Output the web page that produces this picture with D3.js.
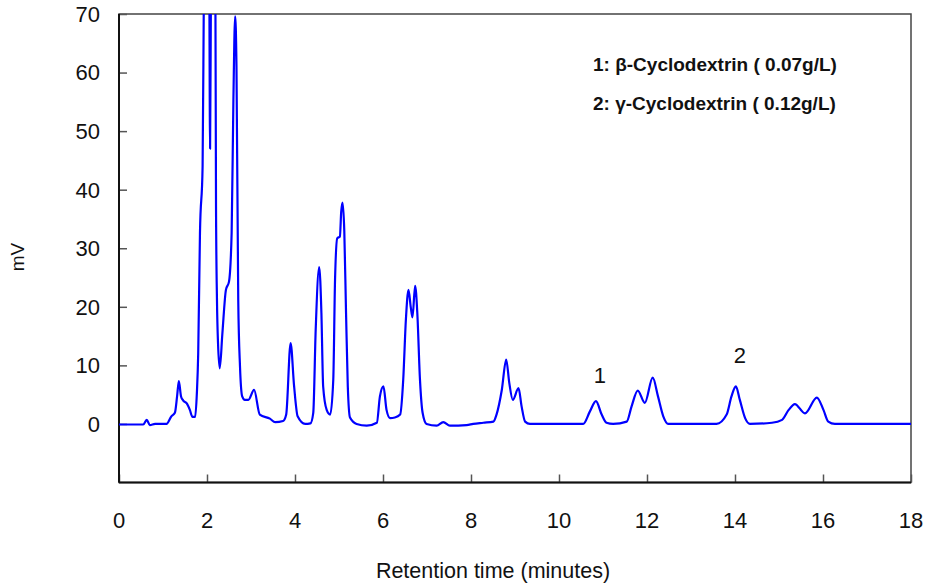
<!DOCTYPE html>
<html><head><meta charset="utf-8">
<script src="https://cdn.jsdelivr.net/npm/d3@7"></script>
<style>body{margin:0;background:#fff}svg{display:block}text{font-family:"Liberation Sans",Arial,sans-serif}</style>
</head><body><svg id="c" width="926" height="585"></svg>
<script>
// Retention time (minutes) and detector signal (mV)
const times = [0,0.55,0.63,0.70,0.82,1.08,1.19,1.27,1.32,1.36,1.41,1.46,1.54,1.61,1.67,1.73,1.77,1.80,1.84,1.90,1.93,2.00,2.05,2.07,2.09,2.12,2.19,2.205,2.227,2.25,2.29,2.35,2.43,2.50,2.56,2.60,2.64,2.67,2.71,2.75,2.80,2.86,2.94,3.07,3.20,3.43,3.55,3.73,3.80,3.90,3.98,4.06,4.23,4.35,4.415,4.47,4.55,4.60,4.64,4.72,4.80,4.87,4.91,4.96,5.02,5.05,5.08,5.12,5.16,5.20,5.25,5.40,5.63,5.86,5.93,6.01,6.08,6.16,6.27,6.39,6.46,6.52,6.58,6.63,6.67,6.73,6.78,6.84,6.90,6.99,7.22,7.37,7.52,7.90,8.05,8.28,8.51,8.58,8.70,8.80,8.87,8.95,9.08,9.15,9.23,9.34,10.55,10.70,10.84,10.97,11.08,11.23,11.54,11.65,11.79,11.95,12.13,12.25,12.37,12.48,13.58,13.81,13.92,14.02,14.11,14.23,14.34,14.84,15.07,15.22,15.36,15.59,15.86,16.01,16.12,16.27,18];
const signal = [-0.1,-0.1,0.7,-0.2,0,0,1.3,1.9,4.7,7.3,4.7,4.0,3.5,2.4,1.2,1.2,5.3,12,32.5,44,75,110,80,47,75,100,75,37,21,13.9,9.5,15.5,22.9,24.3,32.6,55.3,69.6,61,21.2,9.8,4.7,4.1,4.1,5.8,1.6,0.9,0.3,0.5,1.6,13.8,6.4,1.3,0,0.1,1.9,16,26.8,19,6.4,2.4,1.6,7.6,24.6,31.7,32,36.2,37.8,33,19,6.4,1.1,0,-0.3,0.2,4.7,6.4,2.4,1.0,1.1,1.6,7.6,17.8,22.9,20,18.2,23.6,18.9,7.6,1.9,0,-0.3,0.3,-0.3,-0.2,0,0.2,0.4,1.6,5.8,11,7,4.1,6.1,3,0.4,0,0,2.1,3.9,1.6,0.2,0,0.4,3,5.7,3.6,7.9,4.7,1.3,0,0,1.6,4.7,6.4,4.1,1.0,0,0.2,0.7,2.4,3.4,1.8,4.5,2.4,0.4,0,0];
const xTicks = [0,2,4,6,8,10,12,14,16,18];
const yTicks = [0,10,20,30,40,50,60,70];
const legendLines = ["1: β-Cyclodextrin ( 0.07g/L)","2: γ-Cyclodextrin ( 0.12g/L)"];
const peakLabels = [{t:10.84,v:3.9,label:"1"},{t:14.02,v:6.4,label:"2"}];

const svg = d3.select("#c");
const L=119, R=911, T=14, B=482.5;
const x = d3.scaleLinear().domain([0,18]).range([L,R]);
const y = d3.scaleLinear().domain([-10,70]).range([B,T]);

svg.append("defs").append("clipPath").attr("id","clip")
  .append("rect").attr("x",L).attr("y",T).attr("width",R-L).attr("height",B-T);

// frame
svg.append("rect").attr("x",L).attr("y",T).attr("width",R-L).attr("height",B-T)
  .attr("fill","none").attr("stroke","#444").attr("stroke-width",1.5);

// y axis
const yAxis = d3.axisRight(y).tickValues(yTicks).tickSize(8).tickFormat("");
const gy = svg.append("g").attr("transform",`translate(${L},0)`).call(yAxis);
gy.select(".domain").remove();
gy.selectAll(".tick line").attr("stroke","#555").attr("stroke-width",1.5);
svg.append("g").selectAll("text").data(yTicks).join("text")
  .attr("x",100).attr("y",d=>y(d)).attr("dy","0.36em").attr("text-anchor","end")
  .attr("font-size",22).attr("fill","#111").text(d=>d);

// x axis
const xAxis = d3.axisTop(x).tickValues(xTicks).tickSize(8).tickFormat("");
const gx = svg.append("g").attr("transform",`translate(0,${B})`).call(xAxis);
gx.select(".domain").remove();
gx.selectAll(".tick line").attr("stroke","#555").attr("stroke-width",1.5);
svg.append("g").selectAll("text").data(xTicks).join("text")
  .attr("x",d=>x(d)).attr("y",528).attr("text-anchor","middle")
  .attr("font-size",22).attr("fill","#111").text(d=>d);

// left & bottom axis lines darker
svg.append("line").attr("x1",L).attr("x2",L).attr("y1",T).attr("y2",B).attr("stroke","#111").attr("stroke-width",2);
svg.append("line").attr("x1",L).attr("x2",R).attr("y1",B).attr("y2",B).attr("stroke","#111").attr("stroke-width",2);

// titles
svg.append("text").attr("transform","translate(24,257) rotate(-90)").attr("text-anchor","middle")
  .attr("font-size",19).attr("fill","#111").text("mV");
svg.append("text").attr("x",493).attr("y",578).attr("text-anchor","middle")
  .attr("font-size",21.5).attr("fill","#111").text("Retention time (minutes)");

// chromatogram
const data = times.map((t,i)=>({t, v:signal[i]}));
const line = d3.line().x(d=>x(d.t)).y(d=>y(d.v)).curve(d3.curveMonotoneX);
svg.append("path").datum(data).attr("clip-path","url(#clip)")
  .attr("fill","none").attr("stroke","#0000ff").attr("stroke-width",2.2)
  .attr("stroke-linejoin","round").attr("d",line);

// legend
svg.append("g").selectAll("text").data(legendLines).join("text")
  .attr("x",593).attr("y",(d,i)=>71+i*39).attr("font-size",19).attr("font-weight","bold")
  .attr("fill","#111").text(d=>d);

// peak labels
svg.append("g").selectAll("text").data(peakLabels).join("text")
  .attr("x",d=>x(d.t)+4).attr("y",(d,i)=>i===0?383:363).attr("text-anchor","middle")
  .attr("font-size",22).attr("fill","#111").text(d=>d.label);
</script></body></html>
